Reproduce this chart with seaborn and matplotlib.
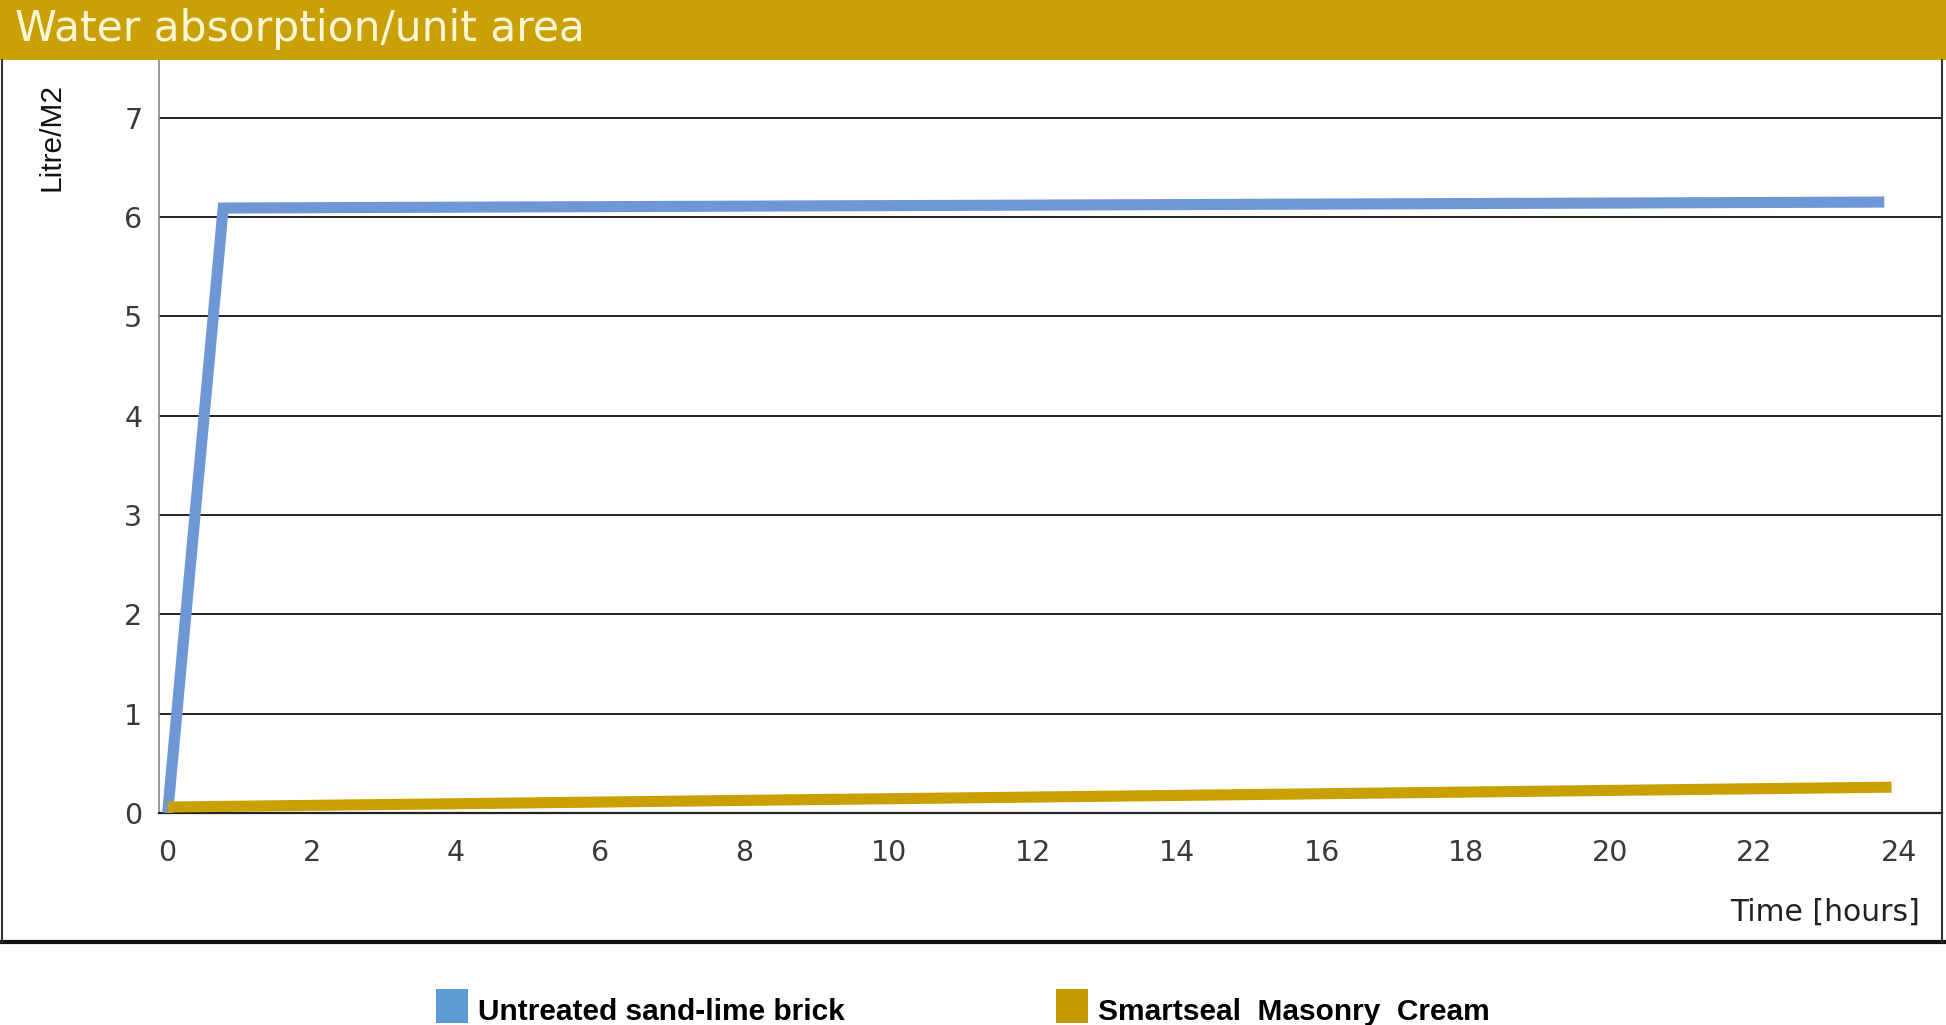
import matplotlib
matplotlib.use("Agg")
import matplotlib.pyplot as plt
from matplotlib.patches import Rectangle
from matplotlib.lines import Line2D
import seaborn as sns
import pandas as pd
import numpy as np

# ---- data ----
series_names = ["Untreated sand-lime brick", "Smartseal  Masonry  Cream"]
brick_hours = [0.0, 0.77, 23.8]
brick_values = [0.0, 6.09, 6.15]
cream_hours = [0.0, 23.9]
cream_values = [0.06, 0.26]
x_ticks = [0, 2, 4, 6, 8, 10, 12, 14, 16, 18, 20, 22, 24]
y_ticks = [0, 1, 2, 3, 4, 5, 6, 7]
colors = ["#6F97D6", "#C9A000"]
legend_colors = ["#5B9BD5", "#C49A00"]

df = pd.concat([
    pd.DataFrame({"hours": brick_hours, "value": brick_values, "series": series_names[0]}),
    pd.DataFrame({"hours": cream_hours, "value": cream_values, "series": series_names[1]}),
])

sns.set_style("white")
plt.rcParams['font.family'] = ['DejaVu Sans']

W, H = 1946, 1025
fig = plt.figure(figsize=(W / 100, H / 100), dpi=100)
ax = fig.add_axes([159 / W, 1 - 813 / H, (1942 - 159) / W, (813 - 60) / H])

sns.lineplot(data=df, x="hours", y="value", hue="series", palette=colors,
             linewidth=8, legend=False, ax=ax, sort=False,
             solid_capstyle="butt", solid_joinstyle="miter", zorder=3)

ax.set_xlim(-0.12, 24.6)
ax.set_ylim(0, 7.58)
ax.set_xticks(x_ticks)
ax.set_yticks(y_ticks)
ax.set_xlabel("")
ax.set_ylabel("")
for y in y_ticks[1:]:
    ax.axhline(y, color="#222222", lw=1.4, zorder=1)
ax.tick_params(axis="both", length=0, labelsize=20.5, labelcolor="#3a3a3a")
ax.tick_params(axis="x", pad=19)
ax.tick_params(axis="y", pad=12)
for s in ["top", "right"]:
    ax.spines[s].set_visible(False)
ax.spines["left"].set_color("#888888")
ax.spines["left"].set_linewidth(1.2)
ax.spines["bottom"].set_color("#222222")
ax.spines["bottom"].set_linewidth(1.6)

# banner
fig.patches.append(Rectangle((0, 1 - 60 / H), 1, 60 / H, transform=fig.transFigure,
                             facecolor="#C9A106", edgecolor="none", zorder=0))
fig.text(15 / W, 1 - 29 / H, "Water absorption/unit area", color="#FFF6D6",
         fontsize=30.5, va="center", ha="left")

# frame lines
fig.add_artist(Line2D([0, 1], [1 - 942 / H, 1 - 942 / H], transform=fig.transFigure,
                      color="#111111", lw=3))
fig.add_artist(Line2D([1.5 / W, 1.5 / W], [1 - 942 / H, 1 - 60 / H], transform=fig.transFigure,
                      color="#333333", lw=1.5))
fig.add_artist(Line2D([1942 / W, 1942 / W], [1 - 942 / H, 1 - 60 / H], transform=fig.transFigure,
                      color="#333333", lw=1.5))

fig.text(52 / W, 1 - 137 / H, "Litre/M2", rotation=90, fontsize=21.5, ha="center", va="center",
         color="#111111", family=["Liberation Sans Narrow", "Liberation Sans", "DejaVu Sans"])
fig.text(1920 / W, 1 - 912 / H, "Time [hours]", fontsize=21.5, ha="right", va="center",
         color="#222222")

# legend
leg_x = [436, 1056]
for lx, name, c in zip(leg_x, series_names, legend_colors):
    fig.patches.append(Rectangle((lx / W, 1 - 1023 / H), 32 / W, 34 / H,
                                 transform=fig.transFigure, facecolor=c, edgecolor="none"))
    fig.text((lx + 42) / W, 1 - 1012 / H, name, fontsize=21.5, fontweight="bold",
             ha="left", va="center", color="#000000",
             family=["Liberation Sans Narrow", "Liberation Sans", "DejaVu Sans"])

fig.savefig("out.png", dpi=100)
